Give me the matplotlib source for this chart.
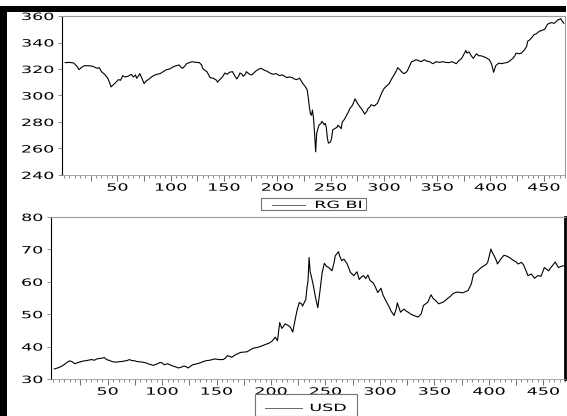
import matplotlib
matplotlib.use('Agg')
import matplotlib.pyplot as plt
from matplotlib import patheffects
from matplotlib.transforms import Affine2D
from matplotlib.patches import Rectangle
from matplotlib.lines import Line2D
from matplotlib.ticker import MultipleLocator

# RG BI index, observation number and level
rg_obs = [1, 5, 9, 12, 14, 16, 19, 23, 27, 31, 33, 35, 38, 41, 43, 44, 46, 48, 51, 53,
          55, 57, 60, 63, 65, 67, 68, 70, 71, 73, 75, 77, 79, 82, 84, 87, 90, 93, 96, 99,
          102, 105, 108, 110, 111, 113, 115, 118, 120, 124, 127, 129, 130, 132, 134, 136, 137, 140, 143, 144,
          146, 148, 151, 153, 155, 158, 160, 162, 164, 165, 167, 168, 170, 171, 174, 176, 178, 180, 183, 185,
          188, 190, 193, 196, 199, 202, 205, 207, 209, 211, 214, 216, 218, 221, 224, 226, 228, 229, 230, 231,
          232, 233, 234, 235, 236, 237, 239, 241, 242, 244, 245, 246, 247, 248, 250, 251, 252, 254, 256, 257,
          259, 260, 261, 263, 265, 267, 268, 270, 271, 273, 275, 277, 279, 281, 282, 284, 285, 287, 288, 290,
          291, 293, 294, 296, 298, 300, 301, 303, 305, 307, 308, 310, 312, 313, 315, 316, 318, 319, 321, 322,
          324, 326, 328, 330, 332, 335, 336, 338, 340, 343, 345, 346, 348, 349, 352, 355, 358, 361, 364, 368,
          370, 373, 375, 377, 378, 380, 382, 384, 386, 387, 389, 391, 393, 396, 399, 401, 403, 404, 405, 408,
          410, 413, 416, 418, 421, 423, 424, 427, 429, 432, 434, 435, 437, 438, 441, 443, 446, 448, 451, 453,
          454, 457, 460, 462, 463, 465, 466, 467, 469]
rg_val = [324.8, 325, 324.5, 322, 319.5, 321, 322.5, 322.5, 322, 320.5, 321, 318, 316, 313, 309, 306.5, 308, 309.5, 312, 311.5,
          315, 314, 314.5, 316, 314, 315.5, 313, 315, 316.5, 313, 309, 311, 312, 314, 315, 316, 316.5, 318, 319.5, 320,
          321.5, 322.5, 323, 321, 320.5, 322, 324, 325, 325.5, 325, 324.8, 323, 320.5, 319, 318, 315, 313.5, 313, 311.5, 310,
          312, 313.5, 317, 316, 317.5, 318, 315, 312.5, 315, 317, 316, 314.5, 316, 318, 316, 315.5, 317, 318.5, 320, 320.5,
          319, 318.5, 317, 316, 316.5, 315, 315.5, 314.5, 313.5, 314, 313.5, 312.5, 312, 313, 309, 307, 304.5, 299, 292, 286.5,
          285, 289, 283, 272, 257.5, 271.5, 277.5, 279, 280.5, 278, 279, 276, 268, 264, 265, 268, 274, 275, 276, 277.5,
          276, 275, 280, 282, 285, 288, 290, 292, 293.5, 297.5, 294.5, 292, 290, 287.5, 286, 288, 290, 291.5, 293, 292.5,
          292, 293.5, 294, 298, 302, 305, 306, 307.5, 309, 312, 313.5, 316, 319, 321, 319.5, 318.5, 317, 316.5, 317.5, 318.5,
          322, 325.5, 326, 327, 326.5, 325.5, 326, 327, 326, 325.5, 324.5, 324, 325, 325.5, 325, 325.5, 325, 324.8, 325.5, 324,
          326, 328, 331, 334, 332, 333, 330, 328, 330.5, 331.5, 330, 330, 329.5, 328.5, 327, 324, 317.5, 320, 322.5, 324.5,
          324, 324.5, 325, 326, 328, 330, 332, 331.5, 332, 334.5, 337, 341, 342, 343, 346, 346.5, 348.5, 349, 350, 353,
          354, 355, 354.5, 356, 357, 357.5, 358, 356.5, 354.5]

# USD rate, observation number and level
usd_obs = [1, 4, 7, 10, 13, 15, 17, 20, 22, 24, 27, 31, 35, 38, 40, 44, 47, 49, 51, 54,
           57, 60, 63, 66, 68, 70, 72, 75, 77, 80, 82, 85, 87, 90, 92, 94, 96, 98, 100, 102,
           105, 108, 110, 113, 115, 118, 120, 122, 124, 126, 128, 131, 135, 138, 141, 144, 146, 149, 152, 156,
           158, 160, 162, 164, 167, 170, 172, 175, 178, 181, 183, 185, 187, 190, 193, 196, 198, 201, 203, 204,
           206, 208, 210, 212, 213, 216, 218, 220, 222, 224, 226, 228, 229, 232, 233, 234, 235, 236, 237, 239,
           241, 243, 245, 247, 249, 251, 253, 255, 256, 258, 259, 262, 263, 265, 267, 268, 270, 272, 273, 276,
           279, 281, 283, 285, 287, 289, 291, 294, 296, 298, 301, 303, 305, 307, 309, 310, 313, 315, 316, 318,
           319, 322, 324, 326, 328, 331, 333, 335, 338, 340, 342, 344, 347, 349, 351, 354, 358, 360, 362, 365,
           367, 370, 372, 376, 379, 381, 384, 386, 388, 390, 393, 396, 398, 399, 402, 403, 405, 407, 408, 411,
           414, 416, 419, 421, 423, 425, 427, 430, 432, 434, 436, 439, 442, 445, 448, 451, 453, 455, 457, 459,
           461, 463, 464, 466, 469]
usd_val = [33.1, 33.4, 33.8, 34.4, 35.2, 35.6, 35.4, 34.7, 35, 35.2, 35.5, 35.7, 36, 35.8, 36.2, 36.4, 36.6, 36, 35.8, 35.4,
           35.2, 35.3, 35.4, 35.6, 35.7, 36, 35.7, 35.6, 35.4, 35.3, 35.2, 35, 34.7, 34.4, 34.2, 34.5, 34.7, 35.1, 35, 34.4,
           34.7, 34.3, 34, 33.7, 33.4, 33.7, 34, 33.8, 33.4, 33.9, 34.4, 34.6, 35, 35.4, 35.7, 35.8, 36, 36.2, 36, 36,
           36.4, 37.2, 37, 36.7, 37.4, 37.9, 38.2, 38.3, 38.4, 39, 39.4, 39.6, 39.7, 40, 40.4, 40.8, 41, 41.7, 42.5, 42.9,
           41.8, 47.4, 45.6, 46.5, 47, 46.5, 45.9, 44.5, 48, 51.3, 53.6, 53.2, 52.5, 54.6, 58, 60.3, 67.5, 63, 61.8, 58.7,
           55, 52, 57.2, 62.8, 65.7, 64.8, 64.4, 63.8, 63.4, 66, 68, 69.3, 68, 66.5, 67, 66.5, 65.5, 63.8, 62.9, 61.9,
           63.1, 60.7, 61.5, 61.9, 61, 62.1, 60.4, 59.6, 58.3, 56.7, 58, 55.8, 54.5, 53.2, 52, 51.1, 49.6, 51.6, 53.5, 51.5,
           50.6, 51.6, 51, 50.6, 50.1, 49.6, 49.4, 49.1, 50.1, 52.7, 53.2, 53.7, 56, 54.8, 54.3, 53.2, 53.7, 54.2, 54.8, 55.6,
           56.3, 56.8, 56.8, 56.6, 57, 57.3, 59.4, 62.4, 62.8, 63.4, 64.4, 65, 65.5, 66, 70.1, 69.2, 68, 66.5, 65.5, 67,
           68.2, 68, 67.5, 67, 66.5, 66.2, 65.5, 66, 65.2, 63.6, 61.9, 62.4, 61.1, 61.9, 61.7, 64.4, 63.9, 63.4, 64.4, 65.2,
           66.1, 65, 64.4, 64.7, 65]

rg_ticks = [240, 260, 280, 300, 320, 340, 360]
usd_ticks = [30, 40, 50, 60, 70, 80]

W, H = 567, 416
FS = 7.2


class Stretch(patheffects.AbstractPathEffect):
    """Widen text glyphs horizontally around the left, centre or right edge."""

    def __init__(self, sx=1.75, anchor='center'):
        super().__init__()
        self.sx = sx
        self.anchor = anchor

    def draw_path(self, renderer, gc, tpath, affine, rgbFace=None):
        ext = tpath.get_extents()
        cx = {'left': ext.x0, 'center': (ext.x0 + ext.x1) / 2, 'right': ext.x1}[self.anchor]
        st = Affine2D().translate(-cx, 0).scale(self.sx, 1).translate(cx, 0)
        renderer.draw_path(gc, tpath, st + affine, rgbFace)


def px_axes(left, top, right, bottom):
    return fig.add_axes([left / W, 1 - bottom / H, (right - left) / W, (bottom - top) / H])


def style_axes(ax, yticks):
    ax.set_xlim(-2, 470)
    ax.set_ylim(yticks[0], yticks[-1])
    ax.set_yticks(yticks)
    major = list(range(25, 470, 25))
    ax.set_xticks(major, labels=[str(t) if t % 50 == 0 else '' for t in major])
    ax.xaxis.set_minor_locator(MultipleLocator(5))
    ax.tick_params(axis='x', which='major', length=4, width=0.6, color='0.35', pad=1.5, labelsize=FS)
    ax.tick_params(axis='x', which='minor', length=2.5, width=0.5, color='0.35')
    ax.tick_params(axis='y', length=3, width=0.6, color='0.5', pad=3, labelsize=FS)
    for lab in ax.get_xticklabels():
        lab.set_path_effects([Stretch(anchor='center')])
    for lab in ax.get_yticklabels():
        lab.set_path_effects([Stretch(anchor='right')])
    ax.spines['left'].set_color('black')
    ax.spines['left'].set_linewidth(0.8)
    ax.spines['bottom'].set_color('0.6')
    ax.spines['bottom'].set_linewidth(0.6)
    ax.spines['top'].set_color('0.6')
    ax.spines['top'].set_linewidth(0.8)
    ax.spines['right'].set_color('0.6')
    ax.spines['right'].set_linewidth(0.8)


def legend_box(x0, x1, y0, y1, lx0, lx1, tx, ty, label):
    fig.add_artist(Rectangle((x0 / W, 1 - y1 / H), (x1 - x0) / W, (y1 - y0) / H,
                             transform=fig.transFigure, fill=False, edgecolor='0.45', lw=0.8))
    fig.add_artist(Line2D([lx0 / W, lx1 / W], [1 - ty / H] * 2, transform=fig.transFigure,
                          color='0.4', lw=0.7))
    fig.text(tx / W, 1 - ty / H, label, ha='left', va='center', fontsize=FS,
             path_effects=[Stretch(anchor='left')])


fig = plt.figure(figsize=(W / 100, H / 100), dpi=100)

ax1 = px_axes(62, 16, 565, 175)
ax1.plot(rg_obs, rg_val, color='black', lw=0.8)
style_axes(ax1, rg_ticks)

ax2 = px_axes(51, 217, 565, 379)
ax2.plot(usd_obs, usd_val, color='black', lw=0.8)
style_axes(ax2, usd_ticks)
ax2.spines['right'].set_color('black')
ax2.spines['right'].set_linewidth(2)

legend_box(261, 366, 198, 210, 272, 305, 315, 205, 'RG BI')
legend_box(255, 357, 394, 415.5, 265, 302, 310, 408, 'USD')

# black frame strips along the top and the left edge
fig.add_artist(Rectangle((0, 1 - 12 / H), 566 / W, 6 / H, transform=fig.transFigure,
                         color='black', lw=0))
fig.add_artist(Rectangle((0, 0), 7 / W, 1 - 6 / H, transform=fig.transFigure,
                         color='black', lw=0))

fig.savefig('out.png', dpi=100)
